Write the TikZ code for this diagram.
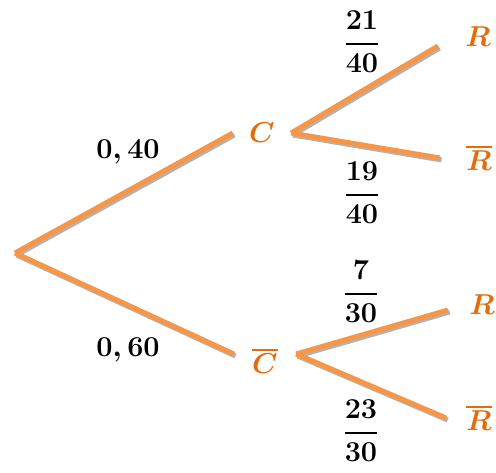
\documentclass[tikz,border=0pt]{standalone}
\usepackage{amsmath}
\usepackage{tikz}
\usetikzlibrary{positioning}
\definecolor{branchorange}{HTML}{F79646}
\definecolor{eventorange}{HTML}{E46C0A}
\newcommand{\pfrac}[2]{\genfrac{}{}{1.1pt}{0}{#1}{#2}}

\begin{document}
\begin{tikzpicture}[
  x=0.5pt, y=-0.5pt,
  branch/.style={line width=2.5pt, draw=branchorange,
    preaction={draw=black!30, line width=2.5pt, transform canvas={shift={(0.8pt,-1pt)}}}},
  event/.style={text=eventorange, font=\Large\boldmath, inner ysep=0pt},
  prob/.style={font=\Large\boldmath},
]
  \useasboundingbox (0,0) rectangle (496,472);

  % first level
  \coordinate (root) at (15,253);
  \node[event, inner xsep=8pt] (C) at (262,133) {$C$};
  \node[event, inner xsep=9pt] (Cb) at (265,361) {$\overline{C}$};

  % second level
  \node[event, anchor=base west, inner xsep=13.5pt] (R1) at (438,46) {$R$};
  \node[event, anchor=west, inner xsep=13pt] (R1b) at (440,158) {$\overline{R}$};
  \node[event, anchor=west, inner xsep=10.5pt] (R2) at (448,305) {$R$};
  \node[event, anchor=west, inner xsep=10pt] (R2b) at (446,418) {$\overline{R}$};

  % branches
  \draw[branch] (root) -- (C.west);
  \draw[branch] (root) -- ([yshift=3.5pt]Cb.west);
  \draw[branch] (C.east) -- (R1.base west);
  \draw[branch] (C.east) -- (R1b.west);
  \draw[branch] ([yshift=3.5pt]Cb.east) -- ([yshift=-2.5pt]R2.west);
  \draw[branch] ([yshift=3.5pt]Cb.east) -- (R2b.west);

  % probabilities
  \node[prob] (p1) at (128,152) {$0,40$};
  \node[prob] (p2) at (128,350) {$0,60$};
  \node[prob] (p11) at (362,42) {$\pfrac{21}{40}$};
  \node[prob] (p12) at (362,193) {$\pfrac{19}{40}$};
  \node[prob] (p21) at (361,292) {$\pfrac{7}{30}$};
  \node[prob] (p22) at (361,431) {$\pfrac{23}{30}$};
\end{tikzpicture}
\end{document}
